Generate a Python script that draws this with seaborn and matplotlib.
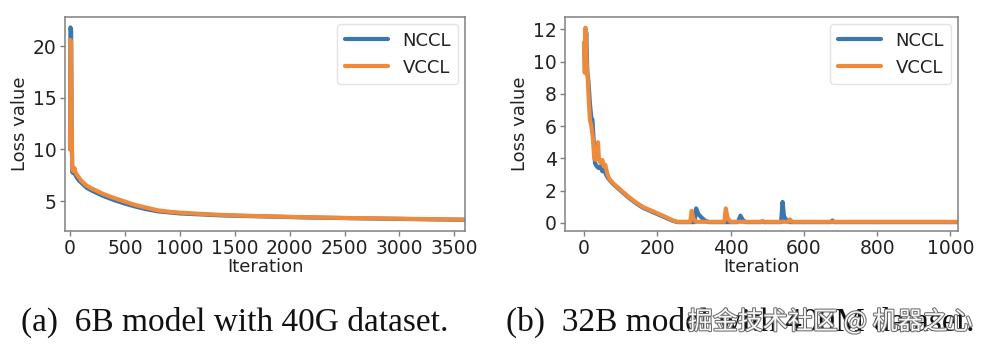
import pandas as pd
import seaborn as sns
import matplotlib.pyplot as plt
import matplotlib.patheffects as pe

# (a) 6B model, 40G dataset
iter_a = [0, 4, 10, 14, 20, 30, 40, 50, 60, 80, 100, 150, 200, 250, 300, 400, 500, 600, 700,
          800, 900, 1000, 1200, 1400, 1600, 1800, 2000, 2200, 2400, 2600, 2800, 3000, 3200, 3400, 3600]
nccl_a = [10.0, 21.8, 21.5, 14.0, 7.8, 7.7, 7.9, 7.5, 7.3, 7.0, 6.8, 6.3, 6.0, 5.75, 5.5, 5.1, 4.75,
          4.45, 4.2, 4.0, 3.9, 3.8, 3.7, 3.6, 3.55, 3.5, 3.45, 3.4, 3.37, 3.33, 3.3, 3.27, 3.24, 3.21, 3.18]
vccl_a = [10.0, 20.6, 20.4, 13.5, 8.1, 7.9, 8.2, 7.8, 7.6, 7.3, 7.0, 6.5, 6.2, 5.95, 5.7, 5.3, 4.95,
          4.6, 4.35, 4.1, 3.97, 3.88, 3.75, 3.65, 3.58, 3.52, 3.47, 3.42, 3.38, 3.35, 3.32, 3.29, 3.26, 3.23, 3.2]

# (b) 32B model, 400M dataset
iter_b_n = [0, 3, 6, 9, 12, 16, 20, 23, 26, 30, 35, 40, 45, 50, 55, 60, 65, 70, 80, 90, 100, 120,
            140, 160, 180, 200, 220, 240, 255, 280, 302, 306, 312, 320, 330, 340, 420, 427, 433, 440,
            484, 487, 490, 538, 542, 546, 552, 560, 674, 678, 682, 1020]
nccl_b = [11.0, 9.5, 11.8, 9.3, 8.8, 7.4, 6.5, 6.4, 5.2, 3.7, 3.5, 3.4, 3.5, 3.2, 3.3, 3.0, 2.8, 2.65,
          2.4, 2.2, 2.0, 1.6, 1.25, 0.95, 0.75, 0.55, 0.35, 0.15, 0.05, 0.05, 0.05, 0.9, 0.55, 0.35,
          0.15, 0.05, 0.05, 0.45, 0.2, 0.05, 0.05, 0.1, 0.05, 0.05, 1.3, 0.4, 0.2, 0.05, 0.05, 0.15,
          0.05, 0.05]
iter_b_v = [0, 2, 4, 7, 10, 13, 16, 20, 24, 28, 32, 36, 38, 41, 46, 50, 54, 58, 64, 70, 80, 90, 100,
            120, 140, 160, 180, 200, 220, 240, 255, 290, 294, 298, 305, 383, 387, 392, 400, 484, 487,
            490, 558, 562, 568, 1020]
vccl_b = [11.2, 9.3, 12.1, 10.0, 9.0, 7.6, 6.4, 6.0, 5.3, 4.0, 3.9, 4.2, 5.0, 3.9, 3.7, 3.9, 3.5,
          3.6, 3.0, 2.7, 2.45, 2.25, 2.05, 1.65, 1.3, 1.0, 0.8, 0.6, 0.4, 0.18, 0.07, 0.07, 0.75, 0.3,
          0.07, 0.07, 0.9, 0.3, 0.07, 0.07, 0.12, 0.07, 0.07, 0.22, 0.07, 0.07]

series = ['NCCL', 'VCCL']
colors = ['#3a76b0', '#ee8a3c']
x_ticks_a = [0, 500, 1000, 1500, 2000, 2500, 3000, 3500]
y_ticks_a = [5, 10, 15, 20]
x_ticks_b = [0, 200, 400, 600, 800, 1000]
y_ticks_b = [0, 2, 4, 6, 8, 10, 12]
captions = ['(a)  6B model with 40G dataset.', '(b)  32B model with 400M dataset.']
watermark = '掘金技术社区 @ 机器之心'

df_a = pd.concat([
    pd.DataFrame({'Iteration': iter_a, 'Loss value': nccl_a, 'lib': 'NCCL'}),
    pd.DataFrame({'Iteration': iter_a, 'Loss value': vccl_a, 'lib': 'VCCL'}),
])
df_b = pd.concat([
    pd.DataFrame({'Iteration': iter_b_n, 'Loss value': nccl_b, 'lib': 'NCCL'}),
    pd.DataFrame({'Iteration': iter_b_v, 'Loss value': vccl_b, 'lib': 'VCCL'}),
])

sns.set_style('ticks')
plt.rcParams['font.family'] = ['DejaVu Sans']
plt.rcParams['axes.edgecolor'] = '#808080'
plt.rcParams['xtick.color'] = '#808080'
plt.rcParams['ytick.color'] = '#808080'
plt.rcParams['xtick.labelcolor'] = '#222222'
plt.rcParams['ytick.labelcolor'] = '#222222'

fig = plt.figure(figsize=(9.86, 3.5), dpi=100)
ax1 = fig.add_axes([0.066, 0.34, 0.406, 0.611])
ax2 = fig.add_axes([0.573, 0.34, 0.399, 0.611])

palette = dict(zip(series, colors))
for ax, df, xt, yt in [(ax1, df_a, x_ticks_a, y_ticks_a), (ax2, df_b, x_ticks_b, y_ticks_b)]:
    sns.lineplot(data=df, x='Iteration', y='Loss value', hue='lib', palette=palette,
                 estimator=None, linewidth=3, ax=ax)
    ax.set_xticks(xt)
    ax.set_yticks(yt)
    ax.tick_params(labelsize=13.5, length=3.5, width=1, pad=2.5)
    ax.set_xlabel('Iteration', fontsize=13, color='#222222', labelpad=0)
    ax.set_ylabel('Loss value', fontsize=13, color='#222222', labelpad=3)
    for s in ax.spines.values():
        s.set_linewidth(1.1)
    h, l = ax.get_legend_handles_labels()
    ax.legend(h, l, loc='upper right', fontsize=13, handlelength=2.4, frameon=True,
              edgecolor='#dddddd', labelcolor='#222222', borderaxespad=0.4)

ax1.set_xlim(-45, 3600)
ax1.set_ylim(2.1, 22.8)
ax2.set_xlim(-52, 1022)
ax2.set_ylim(-0.5, 12.75)

for xc, cap in zip([0.238, 0.751], captions):
    fig.text(xc, 0.078, cap, ha='center', va='center', fontsize=24,
             family=['Liberation Serif'], color='#111111')

fig.text(0.842, 0.08, watermark, ha='center', va='center', fontsize=18,
         family=['Noto Sans CJK SC', 'DejaVu Sans'], color='white', alpha=0.95,
         path_effects=[pe.withStroke(linewidth=1.5, foreground='#666666')])

plt.savefig('out.png', dpi=100, facecolor='w')
